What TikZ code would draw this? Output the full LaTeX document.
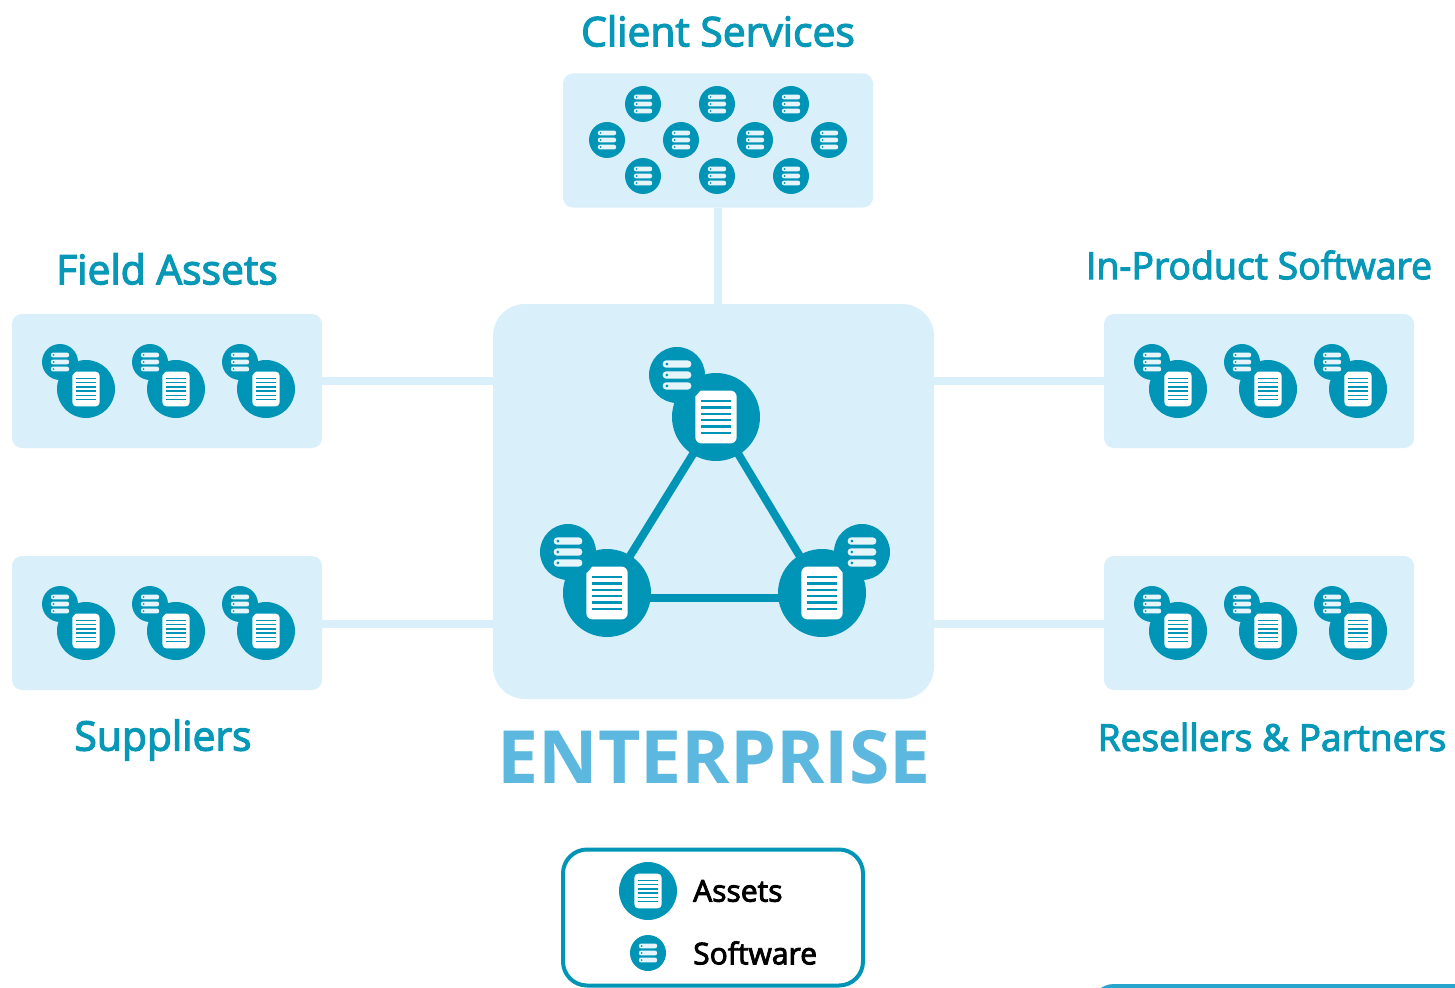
\documentclass[tikz,border=0pt]{standalone}
\usepackage{fontspec}
\setmainfont{Open Sans}
\newfontface\labelfont{Open Sans}[FakeBold=3]
\newfontface\headfont{Open Sans Bold}
\definecolor{teal}{HTML}{0095B6}
\definecolor{pale}{HTML}{D9F0FB}
\definecolor{labelc}{HTML}{0797B7}
\definecolor{headc}{HTML}{5CB8DE}
\definecolor{barc}{HTML}{27A5CC}
\definecolor{pill}{HTML}{E6F5FB}
\tikzset{
  panel/.style={fill=pale,rounded corners=10pt,inner sep=0pt,minimum width=310pt,minimum height=134pt},
  link/.style={draw=pale,line width=8pt},
  tie/.style={draw=teal,line width=8pt,shorten <=-3pt,shorten >=-3pt},
  disc/.style={circle,fill=teal,inner sep=0pt},
  grouplabel/.style={text=labelc,font=\labelfont\fontsize{40.8}{46}\selectfont,inner sep=0pt},
}
% asset icon: name, x, y, radius
\newcommand{\assetmark}[4]{%
  \node[disc,minimum size=#4*2pt] (#1) at (#2,#3) {};
  \begin{scope}[shift={(#1.center)},x=#4pt,y=-#4pt]
    \fill[white,rounded corners=#4*.14pt] (-.47,-.6) rectangle (.47,.6);
    \foreach \k in {-2.5,-1.5,-.5,.5,1.5,2.5}
      \fill[teal] (-.33,\k*.145-.027) rectangle (.33,\k*.145+.027);
  \end{scope}}
% software icon: name, x, y, radius
\newcommand{\softmark}[4]{%
  \node[disc,minimum size=#4*2pt] (#1) at (#2,#3) {};
  \begin{scope}[shift={(#1.center)},x=#4pt,y=-#4pt]
    \foreach \k in {-1,0,1} {
      \fill[pill,rounded corners=#4*.12pt] (-.51,\k*.39-.13) rectangle (.51,\k*.39+.13);
      \fill[teal] (-.36,\k*.39) circle[radius=.055];
    }
  \end{scope}}
% pair: prefix, asset x, asset y
\newcommand{\pairmark}[3]{%
  \assetmark{#1a}{#2}{#3}{29}
  \softmark{#1s}{\the\numexpr#2-26\relax}{\the\numexpr#3-27\relax}{18}}
\begin{document}
\begin{tikzpicture}[x=1pt,y=-1pt]
  \clip (0,0) rectangle (1455,987);
  \fill[white] (0,0) rectangle (1455,987);
  % panels
  \node[panel] (client) at (718,140.5) {};
  \node[panel] (field) at (167,381) {};
  \node[panel] (supp) at (167,623) {};
  \node[panel] (prod) at (1259,381) {};
  \node[panel] (resell) at (1259,623) {};
  \node[fill=pale,rounded corners=32pt,inner sep=0pt,minimum width=441pt,minimum height=395pt] (ent) at (713.5,501.5) {};
  % connectors to the enterprise panel
  \draw[link] (client.south) -- (client.south |- ent.north);
  \draw[link] (field.east) -- (field.east -| ent.west);
  \draw[link] ([yshift=-1pt]supp.east) -- ([yshift=-1pt]supp.east -| ent.west);
  \draw[link] (prod.west) -- (prod.west -| ent.east);
  \draw[link] ([yshift=-1pt]resell.west) -- ([yshift=-1pt]resell.west -| ent.east);
  % labels
  \node[grouplabel] (lclient) at (718,31) {Client Services};
  \node[grouplabel] (lfield) at (167,269) {Field Assets};
  \node[grouplabel] (lsupp) at (163,740) {Suppliers};
  \node[grouplabel,font=\labelfont\fontsize{37.4}{44}\selectfont] (lprod) at (1259,265) {In-Product Software};
  \node[grouplabel,font=\labelfont\fontsize{37.1}{44}\selectfont] (lres) at (1272,737) {Resellers \& Partners};
  \node[text=headc,font=\headfont\fontsize{73.4}{80}\selectfont,inner sep=0pt] (lent) at (714,757) {ENTERPRISE};
  % client services icons
  \softmark{c1}{643}{104}{18}
  \softmark{c2}{717}{104}{18}
  \softmark{c3}{791}{104}{18}
  \softmark{c4}{607}{140}{18}
  \softmark{c5}{681}{140}{18}
  \softmark{c6}{755}{140}{18}
  \softmark{c7}{829}{140}{18}
  \softmark{c8}{643}{176}{18}
  \softmark{c9}{717}{176}{18}
  \softmark{c10}{791}{176}{18}
  % side panels icons
  \pairmark{fa}{86}{389}
  \pairmark{fb}{176}{389}
  \pairmark{fc}{266}{389}
  \pairmark{sa}{86}{631}
  \pairmark{sb}{176}{631}
  \pairmark{sc}{266}{631}
  \pairmark{pa}{1178}{389}
  \pairmark{pb}{1268}{389}
  \pairmark{pc}{1358}{389}
  \pairmark{ra}{1178}{631}
  \pairmark{rb}{1268}{631}
  \pairmark{rc}{1358}{631}
  % central triangle
  \assetmark{topa}{716}{417}{44}
  \assetmark{lefta}{607}{593}{44}
  \assetmark{righta}{822}{593}{44}
  \softmark{tops}{677}{375}{28}
  \softmark{lefts}{568}{552}{28}
  \softmark{rights}{862}{552}{28}
  \draw[tie] (topa) -- (lefta);
  \draw[tie] (topa) -- (righta);
  \draw[tie] ([yshift=-5pt]lefta.east) -- ([yshift=-5pt]righta.west);
  % legend
  \node[draw=teal,line width=4pt,fill=white,rounded corners=24pt,inner sep=0pt,minimum width=300pt,minimum height=136pt] (legend) at (713,917.5) {};
  \assetmark{lega}{648}{891}{29}
  \softmark{legs}{648}{953}{18}
  \node[anchor=west,inner sep=0pt,text=black,font=\labelfont\fontsize{30}{35}\selectfont] (lassets) at (693,891) {Assets};
  \node[anchor=west,inner sep=0pt,text=black,font=\labelfont\fontsize{30}{35}\selectfont] (lsoft) at (693,953) {Software};
  % cropped bar at lower right
  \fill[barc,rounded corners=24pt] (1090,984) rectangle (1600,1100);
\end{tikzpicture}
\end{document}
